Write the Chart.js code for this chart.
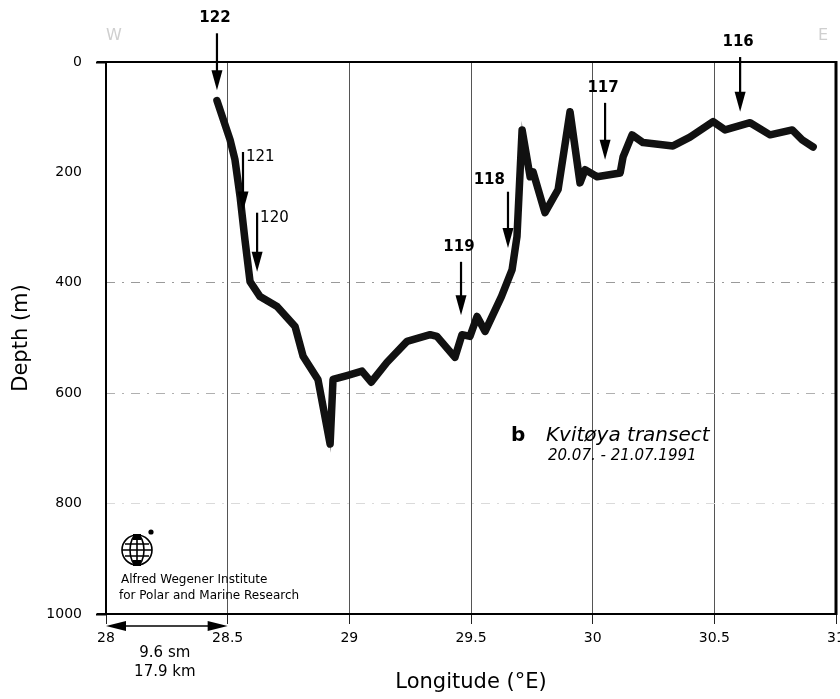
<!DOCTYPE html>
<html>
<head>
<meta charset="utf-8">
<script src="https://cdn.jsdelivr.net/npm/chart.js@4.4.0/dist/chart.umd.min.js"></script>
<style>
  html, body { margin: 0; padding: 0; background: #fff; }
  #wrap { width: 840px; height: 699px; }
</style>
</head>
<body>
<div id="wrap"><canvas id="profile" width="840" height="699"></canvas></div>
<script>
// Kvitoya transect - bottom depth along the ship track
const longitude = [28.456, 28.510, 28.530, 28.551, 28.571, 28.592, 28.633, 28.703, 28.777, 28.810,
                   28.871, 28.921, 28.933, 28.990, 29.052, 29.090, 29.155, 29.237, 29.332, 29.360,
                   29.434, 29.463, 29.496, 29.525, 29.558, 29.625, 29.669, 29.689, 29.710, 29.743,
                   29.755, 29.804, 29.858, 29.907, 29.948, 29.969, 30.018, 30.113, 30.125, 30.162,
                   30.207, 30.330, 30.400, 30.495, 30.544, 30.647, 30.729, 30.820, 30.861, 30.906];
const depth = [70, 141, 177, 244, 322, 398, 425, 443, 479, 533,
               575, 692, 575, 568, 560, 580, 544, 506, 494, 497,
               535, 494, 497, 461, 488, 425, 376, 316, 123, 208,
               199, 273, 231, 90, 219, 195, 208, 201, 172, 132,
               146, 152, 136, 108, 123, 110, 132, 123, 141, 154];

// CTD stations: arrow from top depth down to tip depth
const stationNames = ['122', '121', '120', '119', '118', '117', '116'];
const stationLon   = [28.456, 28.563, 28.621, 29.459, 29.652, 30.051, 30.606];
const stationTop   = [-52, 163, 273, 362, 235, 74, -9];
const stationTip   = [51, 271, 380, 459, 337, 177, 90];

const xTickLabels = ['28', '28.5', '29', '29.5', '30', '30.5', '31'];
const yTickLabels = ['0', '200', '400', '600', '800', '1000'];

// scale bar under the axis
const scaleBarFrom = 28;
const scaleBarTo = 28.5;
const scaleBarText = ['9.6 sm', '17.9 km'];

// where each station number sits relative to its arrow
const labelSide = ['above', 'right', 'right', 'above', 'left', 'above', 'above'];
const labelBold = [true, false, false, true, true, true, true];

const FONT = '"DejaVu Sans", sans-serif';

const points = longitude.map((lon, i) => ({ x: lon, y: depth[i] }));

function drawArrow(ctx, px, y0, y1) {
  const head = 20, half = 5.5;
  ctx.lineWidth = 2.2;
  ctx.beginPath();
  ctx.moveTo(px, y0);
  ctx.lineTo(px, y1 - head + 2);
  ctx.stroke();
  ctx.beginPath();
  ctx.moveTo(px - half, y1 - head);
  ctx.lineTo(px + half, y1 - head);
  ctx.lineTo(px, y1);
  ctx.closePath();
  ctx.fill();
}

// no extra room for overhanging tick labels, the plot box is fixed
function noPad(scale) {
  scale.paddingLeft = 0;
  scale.paddingRight = 0;
  scale.paddingTop = 0;
  scale.paddingBottom = 0;
}

const extras = {
  id: 'extras',
  afterDatasetsDraw(chart) {
    const { ctx, chartArea: a, scales: { x, y } } = chart;
    ctx.save();
    ctx.strokeStyle = '#000';
    ctx.fillStyle = '#000';

    // frame round the plot
    ctx.lineWidth = 2;
    ctx.beginPath();
    ctx.moveTo(a.left - 9, a.top); ctx.lineTo(a.right, a.top);
    ctx.moveTo(a.left, a.top); ctx.lineTo(a.left, a.bottom);
    ctx.moveTo(a.left - 9, a.bottom); ctx.lineTo(a.right, a.bottom);
    ctx.stroke();
    ctx.lineWidth = 3;
    ctx.beginPath();
    ctx.moveTo(a.right, a.top - 1); ctx.lineTo(a.right, a.bottom + 1);
    ctx.stroke();

    // station arrows and numbers
    ctx.textBaseline = 'middle';
    stationNames.forEach((name, i) => {
      const px = x.getPixelForValue(stationLon[i]);
      const top = y.getPixelForValue(stationTop[i]);
      const tip = y.getPixelForValue(stationTip[i]);
      drawArrow(ctx, px, top, tip);
      ctx.font = (labelBold[i] ? 'bold ' : '') + '15px ' + FONT;
      if (labelSide[i] === 'above') {
        ctx.textAlign = 'center';
        ctx.fillText(name, px - 2, top - 15);
      } else if (labelSide[i] === 'right') {
        ctx.textAlign = 'left';
        ctx.fillText(name, px + 3, top + 5);
      } else {
        ctx.textAlign = 'right';
        ctx.fillText(name, px - 3, top - 12);
      }
    });

    // transect caption
    ctx.textAlign = 'left';
    ctx.font = 'bold 20px ' + FONT;
    ctx.fillText('b', 511, 436);
    ctx.font = 'italic 20px ' + FONT;
    ctx.fillText('Kvitøya transect', 546, 436);
    ctx.font = 'italic 15px ' + FONT;
    ctx.fillText('20.07. - 21.07.1991', 548, 456);

    // faint W / E marks
    ctx.fillStyle = '#cfcfcf';
    ctx.font = '16px ' + FONT;
    ctx.textAlign = 'center';
    ctx.fillText('W', 114, 36);
    ctx.fillText('E', 823, 36);
    ctx.fillStyle = '#000';

    // AWI logo
    const gx = a.left + 31, gy = 550, r = 15;
    ctx.lineWidth = 1.6;
    ctx.beginPath(); ctx.arc(gx, gy, r, 0, Math.PI * 2); ctx.stroke();
    ctx.beginPath(); ctx.ellipse(gx, gy, 7, r, 0, 0, Math.PI * 2); ctx.stroke();
    ctx.beginPath();
    ctx.moveTo(gx, gy - r); ctx.lineTo(gx, gy + r);
    ctx.moveTo(gx - r, gy); ctx.lineTo(gx + r, gy);
    ctx.moveTo(gx - 12, gy - 6); ctx.lineTo(gx + 12, gy - 6);
    ctx.moveTo(gx - 12, gy + 6); ctx.lineTo(gx + 12, gy + 6);
    ctx.stroke();
    ctx.fillRect(gx - 4, gy - r - 1, 8, 6);
    ctx.fillRect(gx - 4, gy + r - 5, 8, 6);
    ctx.beginPath(); ctx.arc(gx + 14, gy - 18, 2.6, 0, Math.PI * 2); ctx.fill();
    ctx.font = '12px ' + FONT;
    ctx.textAlign = 'left';
    ctx.fillText('Alfred Wegener Institute', a.left + 15, 580);
    ctx.fillText('for Polar and Marine Research', a.left + 13, 596);

    // scale bar
    const sx0 = x.getPixelForValue(scaleBarFrom);
    const sx1 = x.getPixelForValue(scaleBarTo);
    const sy = a.bottom + 12;
    ctx.lineWidth = 1.5;
    ctx.beginPath(); ctx.moveTo(sx0 + 18, sy); ctx.lineTo(sx1 - 18, sy); ctx.stroke();
    ctx.beginPath();
    ctx.moveTo(sx0, sy); ctx.lineTo(sx0 + 20, sy - 5); ctx.lineTo(sx0 + 20, sy + 5); ctx.closePath();
    ctx.moveTo(sx1, sy); ctx.lineTo(sx1 - 20, sy - 5); ctx.lineTo(sx1 - 20, sy + 5); ctx.closePath();
    ctx.fill();
    ctx.textAlign = 'center';
    ctx.font = '15px ' + FONT;
    ctx.fillText(scaleBarText[0], (sx0 + sx1) / 2 - 2, a.bottom + 39);
    ctx.fillText(scaleBarText[1], (sx0 + sx1) / 2 - 2, a.bottom + 58);

    ctx.restore();
  }
};

new Chart(document.getElementById('profile'), {
  type: 'line',
  data: {
    datasets: [
      {
        data: points,
        borderColor: '#111',
        borderWidth: 7.5,
        borderJoinStyle: 'round',
        borderCapStyle: 'round',
        pointRadius: 0,
        tension: 0
      },
      {
        // speckled grey core of the printed line
        data: points,
        borderColor: 'rgba(135,135,135,0.9)',
        borderWidth: 2,
        borderDash: [2, 2],
        pointRadius: 0,
        tension: 0
      }
    ]
  },
  options: {
    responsive: false,
    animation: false,
    layout: { padding: { top: 62, right: 4, left: 0, bottom: 0 } },
    plugins: { legend: { display: false }, tooltip: { enabled: false } },
    scales: {
      x: {
        type: 'linear',
        min: 28,
        max: 31,
        afterFit(scale) { scale.height = 85; noPad(scale); },
        afterBuildTicks(scale) {
          scale.ticks = xTickLabels.map(t => ({ value: Number(t) }));
        },
        ticks: {
          callback: (v, i) => xTickLabels[i],
          color: '#000',
          padding: 6,
          maxRotation: 0,
          font: { family: FONT, size: 14 }
        },
        grid: {
          color: '#555',
          lineWidth: 1,
          tickLength: 10,
          tickColor: '#222'
        },
        border: { display: false },
        title: {
          display: true,
          text: 'Longitude (°E)',
          color: '#000',
          font: { family: FONT, size: 21 },
          padding: { top: 0, bottom: 4 }
        }
      },
      y: {
        type: 'linear',
        reverse: true,
        min: 0,
        max: 1000,
        afterFit(scale) { scale.width = 106; noPad(scale); },
        afterBuildTicks(scale) {
          scale.ticks = yTickLabels.map(t => ({ value: Number(t) }));
        },
        ticks: {
          callback: (v, i) => yTickLabels[i],
          color: '#000',
          padding: 14,
          font: { family: FONT, size: 14 }
        },
        grid: {
          lineWidth: 1,
          tickLength: 10,
          color: c => ({ 400: '#9a9a9a', 600: '#b0b0b0', 800: '#dadada' })[c.tick && c.tick.value] || 'rgba(0,0,0,0)',
          tickColor: c => (c.tick && (c.tick.value === 0 || c.tick.value === 1000)) ? '#000' : 'rgba(0,0,0,0)',
          tickWidth: 2
        },
        border: { display: false, dash: [9, 7, 2, 7] },
        title: {
          display: true,
          text: 'Depth (m)',
          color: '#000',
          font: { family: FONT, size: 21 },
          padding: { top: 9, bottom: 0 }
        }
      }
    }
  },
  plugins: [extras]
});
</script>
</body>
</html>
